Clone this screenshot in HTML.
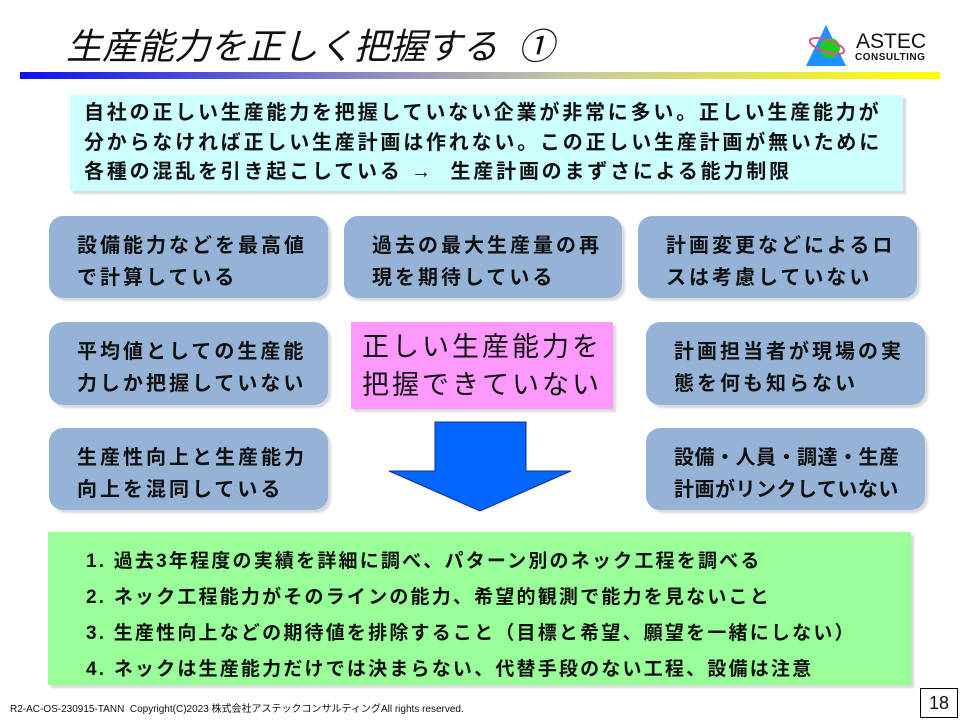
<!DOCTYPE html>
<html><head><meta charset="utf-8"><style>
body{margin:0;width:960px;height:720px;background:#fff;position:relative;overflow:hidden;font-family:"Liberation Sans","Noto Sans CJK JP",sans-serif;}
.a{position:absolute;}
.t{font-weight:bold;color:#111;white-space:nowrap;}
.box{position:absolute;background:#95b3d7;border-radius:14px;box-shadow:3px 3px 2px #d9d9d9;}
.box div{position:absolute;left:28px;top:14px;font-size:20px;line-height:32px;letter-spacing:3px;font-weight:bold;color:#111;white-space:nowrap;}
</style></head><body>
<div class="a" style="left:66px;top:18px;font-size:36px;font-style:italic;color:#111;white-space:nowrap;">生産能力を正しく把握する&nbsp; ①</div>
<svg class="a" style="left:800px;top:20px" width="60" height="50">
<polygon points="26,5 6,46 46,46" fill="#1e90ff"/>
<circle cx="30" cy="28" r="10" fill="#22cc22"/>
<ellipse cx="27" cy="26" rx="18" ry="6" transform="rotate(18 27 26)" fill="none" stroke="#e0508a" stroke-width="2"/>
</svg>
<div class="a" style="left:856px;top:30px;font-size:21px;color:#111;">ASTEC</div>
<div class="a" style="left:855px;top:52px;font-size:10px;font-weight:bold;color:#111;letter-spacing:0.5px">CONSULTING</div>
<div class="a" style="left:20px;top:72px;width:920px;height:7px;background:linear-gradient(90deg,#1010ee,#9090c0 40%,#c8c8a0 60%,#ffff00)"></div>
<div class="a" style="left:70px;top:95px;width:833px;height:96px;background:#ccffff;box-shadow:3px 3px 2px #d9d9d9"></div>
<div class="a t" style="left:84px;top:99px;font-size:20px;line-height:29.5px;letter-spacing:2.8px;">自社の正しい生産能力を把握していない企業が非常に多い。正しい生産能力が<br>分からなければ正しい生産計画は作れない。この正しい生産計画が無いために<br>各種の混乱を引き起こしている&nbsp;→&nbsp; 生産計画のまずさによる能力制限</div>
<div class="box" style="left:49px;top:216px;width:279px;height:82px"><div>設備能力などを最高値<br>で計算している</div></div>
<div class="box" style="left:344px;top:216px;width:278px;height:82px"><div>過去の最大生産量の再<br>現を期待している</div></div>
<div class="box" style="left:638px;top:216px;width:279px;height:82px"><div>計画変更などによるロ<br>スは考慮していない</div></div>
<div class="box" style="left:49px;top:322px;width:279px;height:83px"><div>平均値としての生産能<br>力しか把握していない</div></div>
<div class="box" style="left:646px;top:322px;width:279px;height:83px"><div>計画担当者が現場の実<br>態を何も知らない</div></div>
<div class="box" style="left:49px;top:428px;width:279px;height:82px"><div>生産性向上と生産能力<br>向上を混同している</div></div>
<div class="box" style="left:646px;top:428px;width:279px;height:82px"><div style="letter-spacing:0.5px">設備・人員・調達・生産<br>計画がリンクしていない</div></div>
<div class="a" style="left:351px;top:322px;width:262px;height:87px;background:#ff99ff;box-shadow:3px 3px 2px #d9d9d9"></div>
<div class="a" style="left:362px;top:328px;font-size:27px;line-height:38px;letter-spacing:3px;color:#111;white-space:nowrap">正しい生産能力を<br>把握できていない</div>
<svg class="a" style="left:385px;top:418px" width="190" height="100">
<polygon points="50,4 141,4 141,53 186,53 95,93 4,53 50,53" fill="#0066ff" stroke="#10308a" stroke-width="1"/>
</svg>
<div class="a" style="left:48px;top:532px;width:863px;height:153px;background:#99ff99;box-shadow:3px 3px 2px #d9d9d9"></div>
<div class="a t" style="left:86px;top:544px;font-size:19px;line-height:36px;letter-spacing:2.2px;">1. 過去3年程度の実績を詳細に調べ、パターン別のネック工程を調べる<br>2. ネック工程能力がそのラインの能力、希望的観測で能力を見ないこと<br>3. 生産性向上などの期待値を排除すること（目標と希望、願望を一緒にしない）<br>4. ネックは生産能力だけでは決まらない、代替手段のない工程、設備は注意</div>
<div class="a" style="left:10px;top:700px;font-size:10px;color:#111;white-space:nowrap">R2-AC-OS-230915-TANN&nbsp; Copyright(C)2023 株式会社アステックコンサルティングAll rights reserved.</div>
<div class="a" style="left:920px;top:688px;width:36px;height:28px;border:1px solid #000;font-size:18px;text-align:center;line-height:28px;color:#111">18</div>
</body></html>
